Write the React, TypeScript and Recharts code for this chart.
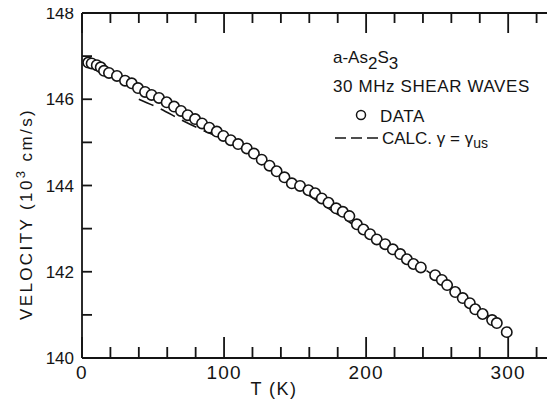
import React from "react";
import { ComposedChart, Scatter, Line, XAxis, YAxis, Customized } from "recharts";

// measured sound velocity, a-As2S3, 30 MHz shear waves
const temps = [
  4.4, 6.8, 10.4, 13.2, 15.5, 19, 24.6, 30.3, 35, 39.4, 44.4, 49, 54.2, 59.6, 64.8,
  69.7, 74.4, 79.6, 84.5, 89.6, 94.9, 99.5, 104.7, 109.9, 116, 121, 126.5, 132, 137,
  142.5, 147.7, 153.5, 159.4, 164.1, 168.8, 173.5, 178.9, 183.6, 188.2, 193.5, 198.1,
  202.8, 207.5, 213.4, 218.8, 224, 228.7, 233.3, 238.5, 248.6, 253.3, 257, 262.7, 268,
  273, 276.8, 282, 288.7, 292, 299,
];
const velocities = [
  146.85, 146.83, 146.79, 146.74, 146.66, 146.61, 146.54, 146.43, 146.37, 146.26, 146.17,
  146.1, 146.03, 145.93, 145.83, 145.73, 145.63, 145.54, 145.44, 145.34, 145.25, 145.15,
  145.05, 144.96, 144.86, 144.74, 144.6, 144.46, 144.33, 144.19, 144.05, 143.99, 143.89,
  143.82, 143.7, 143.6, 143.47, 143.39, 143.29, 143.1, 142.98, 142.87, 142.75, 142.64,
  142.52, 142.41, 142.29, 142.18, 142.1, 141.92, 141.81, 141.69, 141.53, 141.39, 141.27,
  141.13, 141.02, 140.88, 140.81, 140.6,
];

// calculated curve, gamma = gamma_us
const calcTemps = [40, 55, 70, 87, 110, 150, 200, 250, 300];
const calcVelocities = [146.0, 145.78, 145.52, 145.25, 144.93, 143.99, 142.9, 141.86, 140.62];

const xTicks = [0, 20, 40, 60, 80, 100, 120, 140, 160, 180, 200, 220, 240, 260, 280, 300, 320, 340];
const xLabels = [0, 100, 200, 300];
const yTicks = [140, 141, 142, 143, 144, 145, 146, 147, 148];
const yLabels = [140, 142, 144, 146, 148];

const points = temps.map((t, i) => ({ t, v: velocities[i] }));
const calc = calcTemps.map((t, i) => ({ t, v: calcVelocities[i] }));

const FONT = '"Liberation Sans", Arial, sans-serif';
const INK = "#141414";
const X_DOMAIN = [0, 340];
const Y_DOMAIN = [140, 148];
const TW = 1.8; // tick stroke
const frame = { stroke: INK, strokeWidth: 1.8 };

// ticks are drawn as thin filled bars pointing into the plot
const BottomTick = (props: any) => {
  const { x, y, payload } = props;
  const len = payload.value % 100 === 0 ? 21 : 11;
  return (
    <g>
      <rect x={x - TW / 2} y={y - len} width={TW} height={len} fill={INK} />
      {xLabels.includes(payload.value) && (
        <text x={x} y={y + 21} textAnchor="middle" fontSize={19} letterSpacing={1.2} fill={INK} fontFamily={FONT}>
          {payload.value}
        </text>
      )}
    </g>
  );
};

const TopTick = (props: any) => {
  const { x, y, payload } = props;
  const len = payload.value % 100 === 0 ? 20 : 10;
  return <rect x={x - TW / 2} y={y} width={TW} height={len} fill={INK} />;
};

const LeftTick = (props: any) => {
  const { x, y, payload } = props;
  return (
    <g>
      <rect x={x} y={y - TW / 2} width={10} height={TW} fill={INK} />
      {yLabels.includes(payload.value) && (
        <text x={x - 8} y={y + 6} textAnchor="end" fontSize={17} fill={INK} fontFamily={FONT}>
          {payload.value}
        </text>
      )}
    </g>
  );
};

const RightTick = (props: any) => {
  const { x, y } = props;
  return <rect x={x - 10} y={y - TW / 2} width={10} height={TW} fill={INK} />;
};

const OpenCircle = (props: any) => (
  <circle cx={props.cx} cy={props.cy} r={5.2} fill="#fff" stroke={INK} strokeWidth={1.6} />
);

// axis titles and the key in the upper right
const Annotations = () => (
  <g fontFamily={FONT} fill={INK}>
    <text x={274} y={395} textAnchor="middle" fontSize={18} letterSpacing={1.5}>
      T (K)
    </text>
    <text
      x={0}
      y={0}
      transform="translate(32, 214) rotate(-90)"
      textAnchor="middle"
      fontSize={17}
      letterSpacing={2.4}
    >
      VELOCITY (10
      <tspan dy={-7} fontSize={13}>3</tspan>
      <tspan dy={7}> cm/s)</tspan>
    </text>
    <text x={333} y={63} fontSize={17}>
      a-As<tspan dy={6}>2</tspan>
      <tspan dy={-6}>S</tspan>
      <tspan dy={6}>3</tspan>
    </text>
    <text x={333} y={92} fontSize={17} letterSpacing={0.6}>
      30 MHz SHEAR  WAVES
    </text>
    <circle cx={361} cy={115} r={4.5} fill="none" stroke={INK} strokeWidth={1.5} />
    <text x={380} y={122} fontSize={17} letterSpacing={0.5}>
      DATA
    </text>
    <line x1={335} y1={138} x2={380} y2={138} stroke={INK} strokeWidth={1.5} strokeDasharray="11 5" />
    <text x={382} y={144} fontSize={17}>
      CALC.  γ = γ<tspan dy={4} fontSize={14}>us</tspan>
    </text>
  </g>
);

export default function App() {
  return (
    <div style={{ margin: -8, width: 555, height: 410, overflow: "hidden", background: "#fff" }}>
      <ComposedChart width={579} height={410} margin={{ top: 12, right: 13, bottom: 51, left: 81 }}>
        <XAxis xAxisId="bottom" dataKey="t" type="number" domain={X_DOMAIN} ticks={xTicks} interval={0}
          height={1} tickSize={0} tickMargin={0} tickLine={false} tick={<BottomTick />} axisLine={frame} allowDataOverflow />
        <XAxis xAxisId="top" orientation="top" dataKey="t" type="number" domain={X_DOMAIN} ticks={xTicks}
          interval={0} height={1} tickSize={0} tickMargin={0} tickLine={false} tick={<TopTick />} axisLine={frame}
          allowDataOverflow />
        <YAxis yAxisId="left" type="number" domain={Y_DOMAIN} ticks={yTicks} interval={0} width={1}
          tickSize={0} tickMargin={0} tickLine={false} tick={<LeftTick />} axisLine={frame} allowDataOverflow />
        <YAxis yAxisId="right" orientation="right" type="number" domain={Y_DOMAIN} ticks={yTicks} interval={0}
          width={1} tickSize={0} tickMargin={0} tickLine={false} tick={<RightTick />} axisLine={frame} allowDataOverflow />
        <Line
          data={calc}
          dataKey="v"
          xAxisId="bottom"
          yAxisId="left"
          type="monotone"
          stroke={INK}
          strokeWidth={1.6}
          strokeDasharray="16 8"
          dot={false}
          activeDot={false}
          isAnimationActive={false}
        />
        <Scatter
          data={points}
          dataKey="v"
          xAxisId="bottom"
          yAxisId="left"
          shape={<OpenCircle />}
          isAnimationActive={false}
        />
        <Customized component={Annotations} />
      </ComposedChart>
    </div>
  );
}
